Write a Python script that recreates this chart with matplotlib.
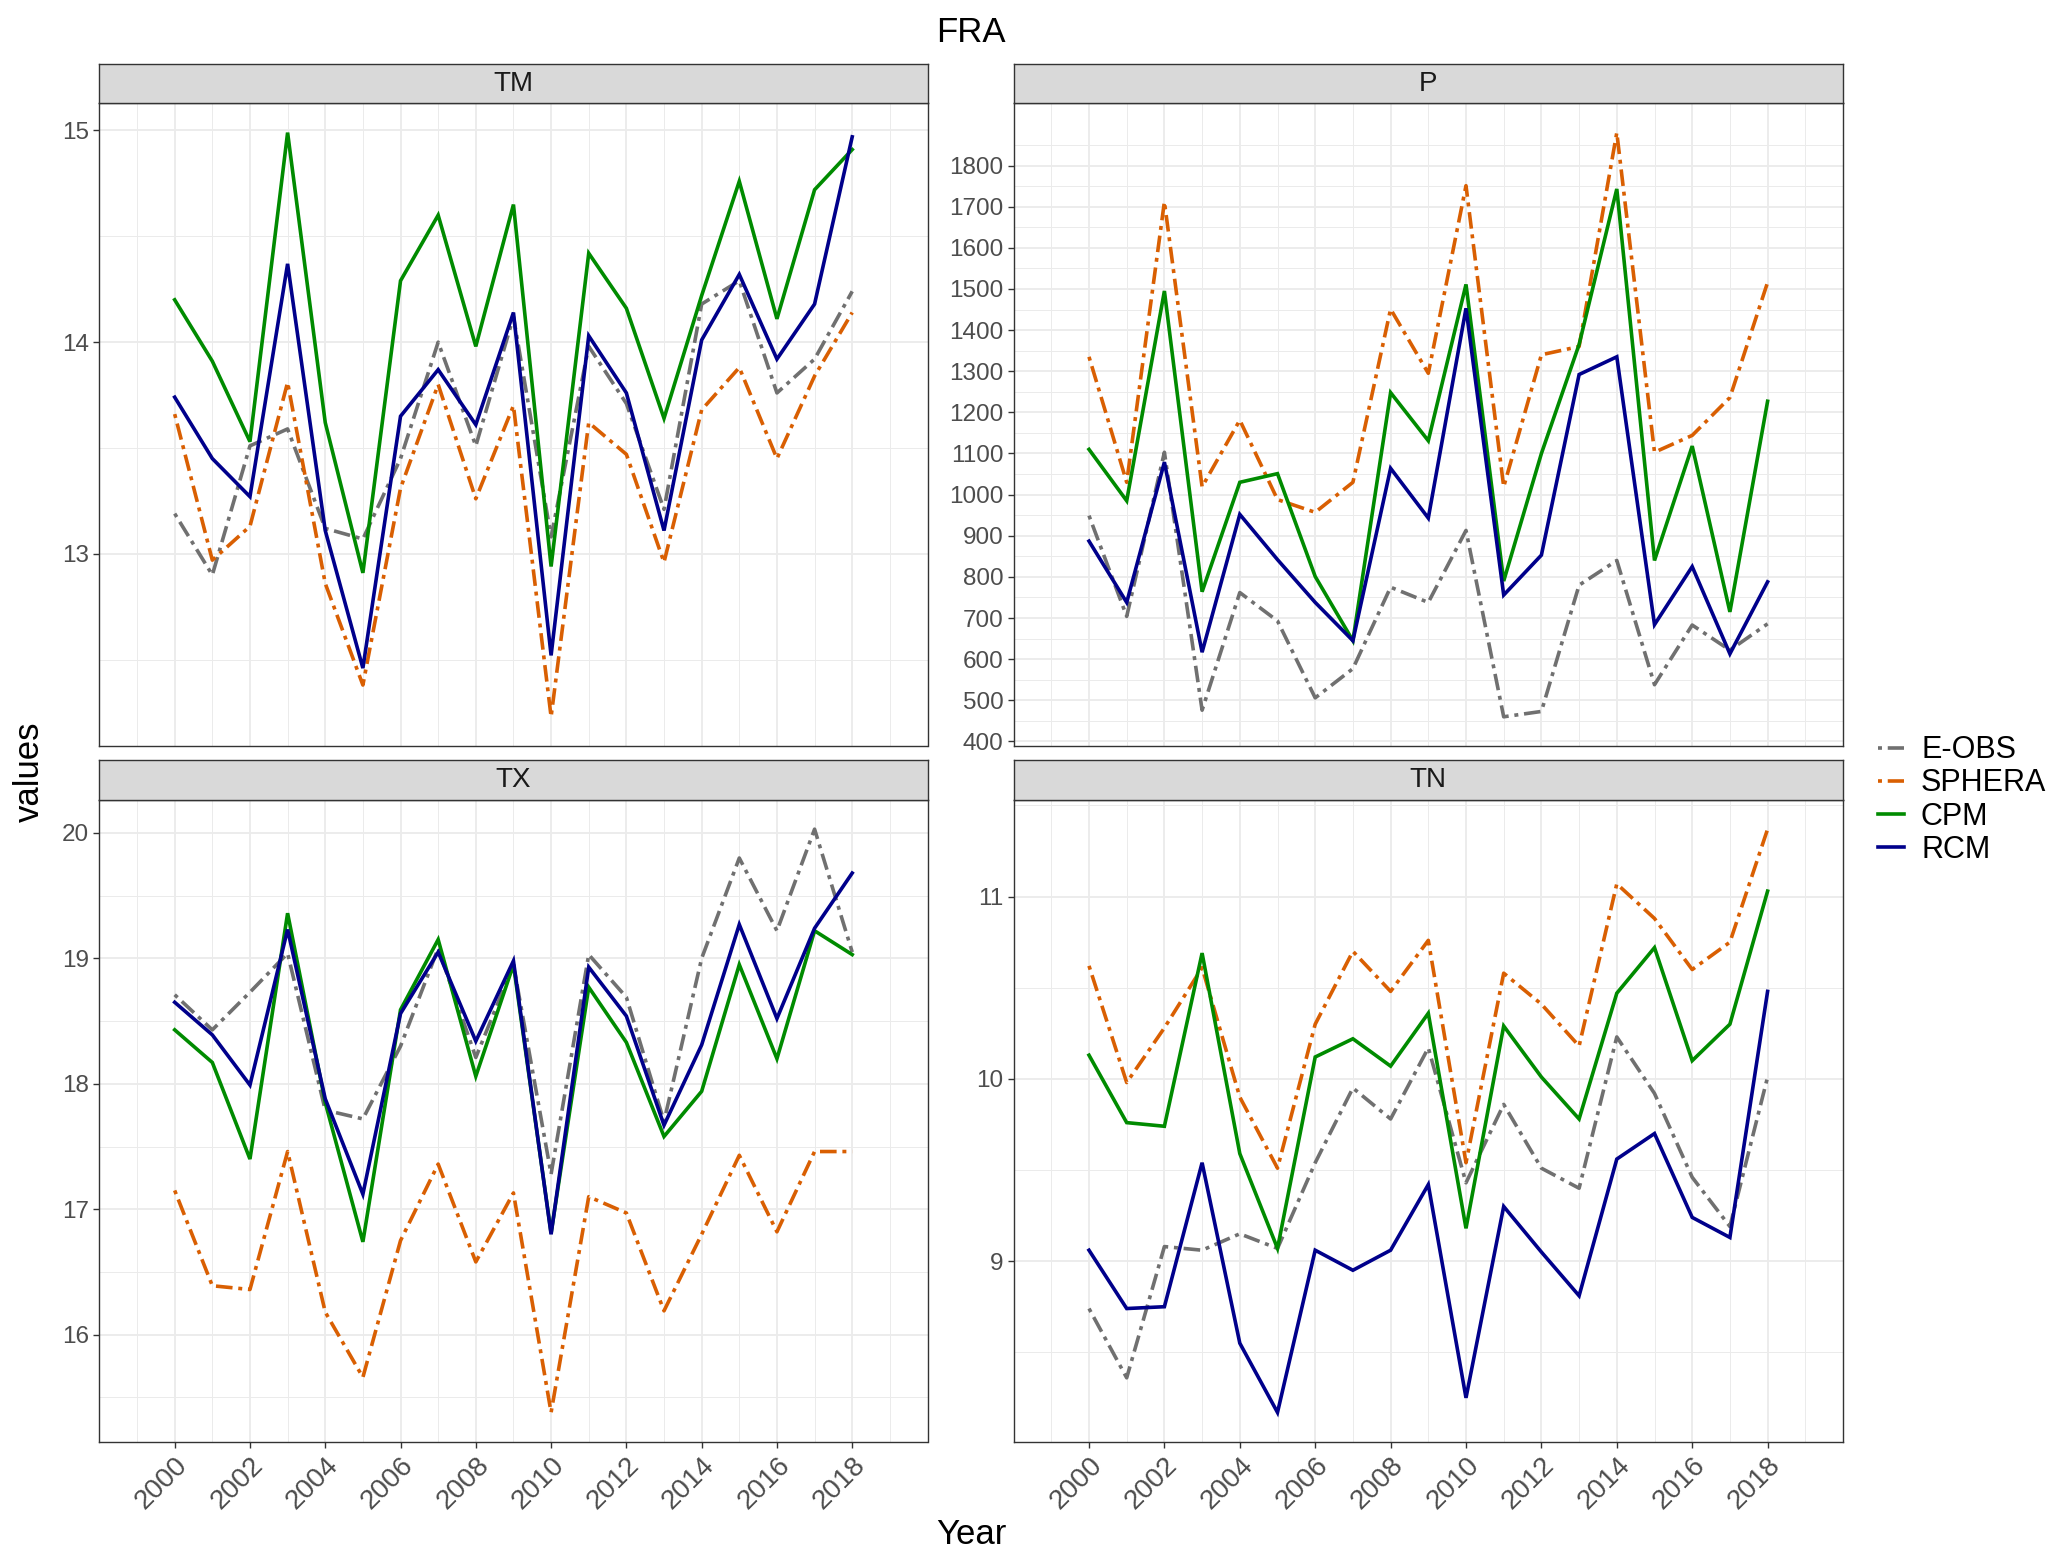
import matplotlib
matplotlib.use('Agg')
import matplotlib.pyplot as plt
import numpy as np
from matplotlib.lines import Line2D

plt.rcParams['font.family'] = ['Liberation Sans', 'DejaVu Sans']

years = list(range(2000, 2019))
series_names = ['E-OBS', 'SPHERA', 'CPM', 'RCM']
series_colors = ['#707070', '#D95F02', '#008B00', '#00008B']

tm_eobs = [13.19, 12.90, 13.51, 13.59, 13.12, 13.07, 13.45, 14.00, 13.51, 14.12, 13.08, 13.98, 13.71, 13.21, 14.18, 14.29, 13.76, 13.92, 14.24]
tm_sphera = [13.66, 12.97, 13.13, 13.81, 12.86, 12.38, 13.31, 13.80, 13.26, 13.70, 12.23, 13.62, 13.47, 12.96, 13.68, 13.88, 13.45, 13.84, 14.14]
tm_cpm = [14.20, 13.91, 13.53, 14.99, 13.62, 12.91, 14.29, 14.60, 13.98, 14.65, 12.94, 14.42, 14.16, 13.64, 14.22, 14.76, 14.11, 14.72, 14.91]
tm_rcm = [13.74, 13.45, 13.27, 14.37, 13.11, 12.46, 13.65, 13.87, 13.61, 14.14, 12.52, 14.03, 13.76, 13.11, 14.01, 14.32, 13.92, 14.18, 14.97]

p_eobs = [949, 704, 1103, 476, 762, 693, 506, 577, 775, 738, 913, 460, 473, 780, 840, 538, 683, 622, 686]
p_sphera = [1335, 1030, 1712, 1019, 1181, 988, 957, 1030, 1451, 1295, 1751, 1019, 1340, 1360, 1880, 1103, 1144, 1236, 1516]
p_cpm = [1110, 985, 1495, 764, 1030, 1051, 801, 645, 1248, 1131, 1511, 790, 1100, 1365, 1743, 840, 1118, 715, 1227]
p_rcm = [887, 738, 1079, 617, 952, 842, 738, 645, 1064, 943, 1453, 756, 853, 1292, 1335, 684, 825, 613, 788]

tx_eobs = [18.71, 18.43, 18.73, 19.04, 17.79, 17.72, 18.30, 19.08, 18.21, 18.95, 17.28, 19.03, 18.69, 17.70, 19.00, 19.80, 19.22, 20.03, 19.05]
tx_sphera = [17.15, 16.39, 16.36, 17.46, 16.18, 15.66, 16.75, 17.36, 16.58, 17.13, 15.38, 17.10, 16.97, 16.19, 16.80, 17.43, 16.82, 17.46, 17.46]
tx_cpm = [18.43, 18.17, 17.40, 19.36, 17.85, 16.74, 18.59, 19.15, 18.06, 18.95, 16.81, 18.77, 18.33, 17.58, 17.94, 18.95, 18.20, 19.22, 19.03]
tx_rcm = [18.65, 18.39, 17.99, 19.23, 17.88, 17.12, 18.56, 19.05, 18.34, 18.98, 16.80, 18.93, 18.54, 17.67, 18.31, 19.27, 18.52, 19.24, 19.68]

tn_eobs = [8.74, 8.36, 9.08, 9.06, 9.15, 9.07, 9.54, 9.95, 9.78, 10.17, 9.43, 9.86, 9.51, 9.40, 10.23, 9.92, 9.46, 9.19, 10.01]
tn_sphera = [10.62, 9.98, 10.28, 10.61, 9.90, 9.51, 10.30, 10.70, 10.48, 10.76, 9.54, 10.58, 10.41, 10.18, 11.07, 10.88, 10.60, 10.75, 11.37]
tn_cpm = [10.13, 9.76, 9.74, 10.69, 9.59, 9.07, 10.12, 10.22, 10.07, 10.36, 9.18, 10.29, 10.01, 9.78, 10.47, 10.72, 10.10, 10.30, 11.03]
tn_rcm = [9.06, 8.74, 8.75, 9.54, 8.55, 8.17, 9.06, 8.95, 9.06, 9.42, 8.25, 9.30, 9.05, 8.81, 9.56, 9.70, 9.24, 9.13, 10.48]

tm_major = [13, 14, 15]
p_major = list(range(400, 1900, 100))
tx_major = [16, 17, 18, 19, 20]
tn_major = [9, 10, 11]
x_major = list(range(2000, 2019, 2))
x_minor = list(range(1999, 2020, 2))

panels = [
    ('TM', [tm_eobs, tm_sphera, tm_cpm, tm_rcm], tm_major, 0.5),
    ('P', [p_eobs, p_sphera, p_cpm, p_rcm], p_major, 50),
    ('TX', [tx_eobs, tx_sphera, tx_cpm, tx_rcm], tx_major, 0.5),
    ('TN', [tn_eobs, tn_sphera, tn_cpm, tn_rcm], tn_major, 0.5),
]

W, H = 2067, 1555
fig = plt.figure(figsize=(W / 100, H / 100), dpi=100)

boxes = [(99.4, 927.5, 103.4, 746.0), (1013.6, 1843.0, 103.4, 746.0),
         (99.4, 927.5, 800.0, 1441.6), (1013.6, 1843.0, 800.0, 1441.6)]
strip_h = 39.6

def rect(l, r, t, b):
    return [l / W, 1 - b / H, (r - l) / W, (b - t) / H]

dash_pat = (0, (1.1, 1.6, 4.6, 1.6))
styles = [dash_pat, dash_pat, '-', '-']
LW = 2.6
edge = '#333333'

for (name, data, majors, mstep), (l, r, t, b) in zip(panels, boxes):
    ax = fig.add_axes(rect(l, r, t, b))
    allv = np.concatenate([np.asarray(d, float) for d in data])
    lo, hi = allv.min(), allv.max()
    pad = 0.05 * (hi - lo)
    ylo, yhi = lo - pad, hi + pad
    for d, c, s, lab in zip(data, series_colors, styles, series_names):
        ax.plot(years, d, color=c, lw=LW, linestyle=s, label=lab,
                dash_capstyle='butt', solid_joinstyle='miter', zorder=3)
    ax.set_xlim(1998, 2020)
    ax.set_ylim(ylo, yhi)
    ax.set_xticks(x_major)
    ax.set_xticks(x_minor, minor=True)
    ax.set_yticks(majors)
    minors = []
    v = majors[0] - mstep
    while v <= majors[-1] + mstep + 1e-9:
        if not any(abs(v - m) < 1e-9 for m in majors) and ylo <= v <= yhi:
            minors.append(v)
        v += mstep
    ax.set_yticks(minors, minor=True)
    ax.grid(which='major', color='#EBEBEB', lw=1.3, zorder=0)
    ax.grid(which='minor', color='#EBEBEB', lw=0.7, zorder=0)
    ax.set_axisbelow(True)
    for sp in ax.spines.values():
        sp.set_color(edge)
        sp.set_linewidth(1.0)
    ax.tick_params(which='major', length=4.3, width=1.0, color=edge,
                   labelcolor='#4D4D4D', labelsize=17.5, pad=3)
    ax.tick_params(which='minor', length=0)
    ax.set_yticklabels([str(m) for m in majors])
    if name in ('TX', 'TN'):
        ax.set_xticklabels([str(x) for x in x_major], rotation=45,
                           ha='right', va='top', rotation_mode='anchor',
                           fontsize=20)
    else:
        ax.set_xticklabels([])
        ax.tick_params(axis='x', which='major', length=0)
    sax = fig.add_axes(rect(l, r, t - strip_h, t))
    sax.set_facecolor('#D9D9D9')
    sax.set_xticks([])
    sax.set_yticks([])
    for sp in sax.spines.values():
        sp.set_color(edge)
        sp.set_linewidth(1.0)
    sax.text(0.5, 0.5, name, ha='center', va='center', fontsize=20,
             color='#1A1A1A', transform=sax.transAxes)

fig.text(971 / W, 1 - 33 / H, 'FRA', ha='center', va='center', fontsize=25)
fig.text(971 / W, 1 - 1534 / H, 'Year', ha='center', va='center', fontsize=25)
fig.text(29 / W, 1 - 772 / H, 'values', ha='center', va='center',
         rotation=90, fontsize=25)

handles = [Line2D([0], [0], color=c, lw=LW, linestyle=s, dash_capstyle='butt')
           for c, s in zip(series_colors, styles)]
fig.legend(handles, series_names, loc='center left',
           bbox_to_anchor=(1866 / W, 1 - 800 / H), frameon=False,
           fontsize=22, handlelength=0.85, handletextpad=0.55,
           labelspacing=0.1, borderaxespad=0)

fig.savefig('out.png', dpi=100)
